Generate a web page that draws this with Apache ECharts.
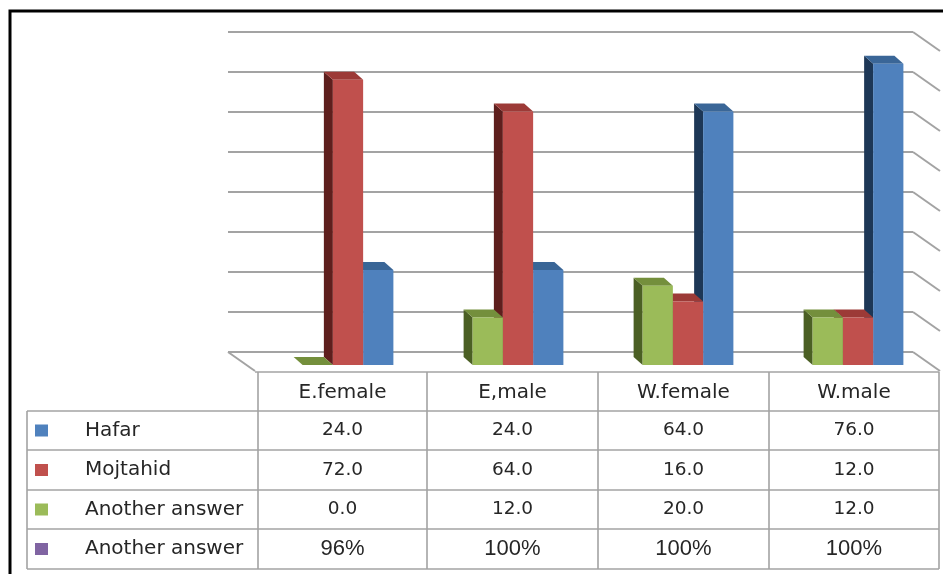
<!DOCTYPE html>
<html>
<head>
<meta charset="utf-8">
<script src="https://cdn.jsdelivr.net/npm/echarts@6/dist/echarts.min.js"></script>
<style>
html, body { margin: 0; padding: 0; background: #fff; }
#chart { width: 943px; height: 574px; }
</style>
</head>
<body>
<div id="chart"></div>
<script>
var chart = echarts.init(document.getElementById('chart'));

var categories = ['E.female', 'E,male', 'W.female', 'W.male'];
var hafar = [24, 24, 64, 76];
var mojtahid = [72, 64, 16, 12];
var another = [0, 12, 20, 12];
var totals = ['96%', '100%', '100%', '100%'];
var rowNames = ['Hafar', 'Mojtahid', 'Another answer', 'Another answer'];
var yTicks = [0, 10, 20, 30, 40, 50, 60, 70, 80];

// colours: front, side, top
var blue = ['#4f81bd', '#1d3756', '#3a6697'];
var red = ['#c0504d', '#5e1f1d', '#9c3a37'];
var green = ['#9bbb59', '#4b5f24', '#748f3c'];
var purple = '#8064a2';
var gridColor = '#a3a3a3';
var textColor = '#262626';

// table layout (pixels)
var colX = [27, 258, 427, 598, 769, 939];
var rowY = [372, 411, 450, 490, 529, 569];

function bar3d(slot, c) {
    return function (params, api) {
        var base = api.coord([api.value(0), 0]);
        var peak = api.coord([api.value(0), api.value(1)]);
        var w = api.size([1, 0])[0] * 0.178;
        var x = base[0] + (slot - 1.5) * w;
        var dx = -9, dy = -8;
        return {
            type: 'group',
            children: [{
                type: 'polygon',
                shape: { points: [[x, base[1]], [x, peak[1]], [x + dx, peak[1] + dy], [x + dx, base[1] + dy]] },
                style: { fill: c[1] }
            }, {
                type: 'polygon',
                shape: { points: [[x, peak[1]], [x + w, peak[1]], [x + w + dx, peak[1] + dy], [x + dx, peak[1] + dy]] },
                style: { fill: c[2] }
            }, {
                type: 'rect',
                shape: { x: x, y: peak[1], width: w, height: base[1] - peak[1] },
                style: { fill: c[0] }
            }]
        };
    };
}

function pairs(arr) {
    return arr.map(function (v, i) { return [i, v]; });
}

// data table under the chart
var elements = [{
    type: 'rect',
    shape: { x: 10, y: 11, width: 1000, height: 1000 },
    style: { fill: 'none', stroke: '#000', lineWidth: 3 },
    silent: true
}];
for (var r = 0; r < rowY.length; r++) {
    elements.push({
        type: 'line',
        shape: { x1: r === 0 ? 255 : colX[0], y1: rowY[r], x2: colX[5], y2: rowY[r] },
        style: { stroke: gridColor, lineWidth: 1.6 }
    });
}
for (var c = 0; c < colX.length; c++) {
    elements.push({
        type: 'line',
        shape: { x1: colX[c], y1: c === 0 ? rowY[1] : rowY[0], x2: colX[c], y2: rowY[5] },
        style: { stroke: gridColor, lineWidth: 1.6 }
    });
}
function cellText(txt, x, y, font, align) {
    return {
        type: 'text',
        style: {
            text: txt, x: x, y: y, font: font, fill: textColor,
            textAlign: align || 'center', textVerticalAlign: 'middle', verticalAlign: 'middle'
        }
    };
}
var labelFont = '20px "DejaVu Sans"';
var numFont = '18.5px "DejaVu Sans"';
categories.forEach(function (name, i) {
    elements.push(cellText(name, (colX[i + 1] + colX[i + 2]) / 2, (rowY[0] + rowY[1]) / 2 + 1, labelFont));
});
var rows = [hafar, mojtahid, another];
var keyColors = [blue[0], red[0], green[0], purple];
rowNames.forEach(function (name, r) {
    var cy = (rowY[r + 1] + rowY[r + 2]) / 2;
    elements.push({
        type: 'rect',
        shape: { x: 35, y: cy - 6, width: 13, height: 12 },
        style: { fill: keyColors[r] }
    });
    elements.push(cellText(name, 85, cy, labelFont, 'left'));
    categories.forEach(function (cat, i) {
        var cx = (colX[i + 1] + colX[i + 2]) / 2;
        if (r < 3) {
            elements.push(cellText(rows[r][i].toFixed(1), cx, cy, numFont));
        } else {
            elements.push(cellText(totals[i], cx, cy, '22px "Liberation Sans"'));
        }
    });
});

var option = {
    backgroundColor: '#fff',
    animation: false,
    grid: [
        { left: 228, right: 30, top: 32, height: 320 },
        { left: 263, width: 685, top: 48, height: 317 }
    ],
    xAxis: [
        { gridIndex: 0, type: 'value', min: 0, max: 1, show: false },
        { gridIndex: 1, type: 'category', data: categories, show: false }
    ],
    yAxis: [{
        gridIndex: 0, type: 'value', min: 0, max: 80, interval: 10,
        axisLabel: { show: false }, axisLine: { show: false }, axisTick: { show: false },
        splitLine: { lineStyle: { color: gridColor, width: 2.2 } }
    }, {
        gridIndex: 1, type: 'value', min: 0, max: 80, show: false
    }],
    graphic: { elements: elements },
    series: [{
        // side wall + floor edges
        type: 'custom',
        xAxisIndex: 0, yAxisIndex: 0,
        data: yTicks.map(function (v) { return [1, v]; }).concat([[0, 0]]),
        renderItem: function (params, api) {
            var p = api.coord([api.value(0), api.value(1)]);
            return {
                type: 'line',
                shape: { x1: p[0], y1: p[1], x2: p[0] + 27, y2: p[1] + 19 },
                style: { stroke: gridColor, lineWidth: 2 }
            };
        },
        silent: true
    }, {
        name: 'Hafar', type: 'custom', xAxisIndex: 1, yAxisIndex: 1,
        data: pairs(hafar), renderItem: bar3d(2, blue)
    }, {
        name: 'Mojtahid', type: 'custom', xAxisIndex: 1, yAxisIndex: 1,
        data: pairs(mojtahid), renderItem: bar3d(1, red)
    }, {
        name: 'Another answer', type: 'custom', xAxisIndex: 1, yAxisIndex: 1,
        data: pairs(another), renderItem: bar3d(0, green)
    }]
};
chart.setOption(option);
</script>
</body>
</html>
